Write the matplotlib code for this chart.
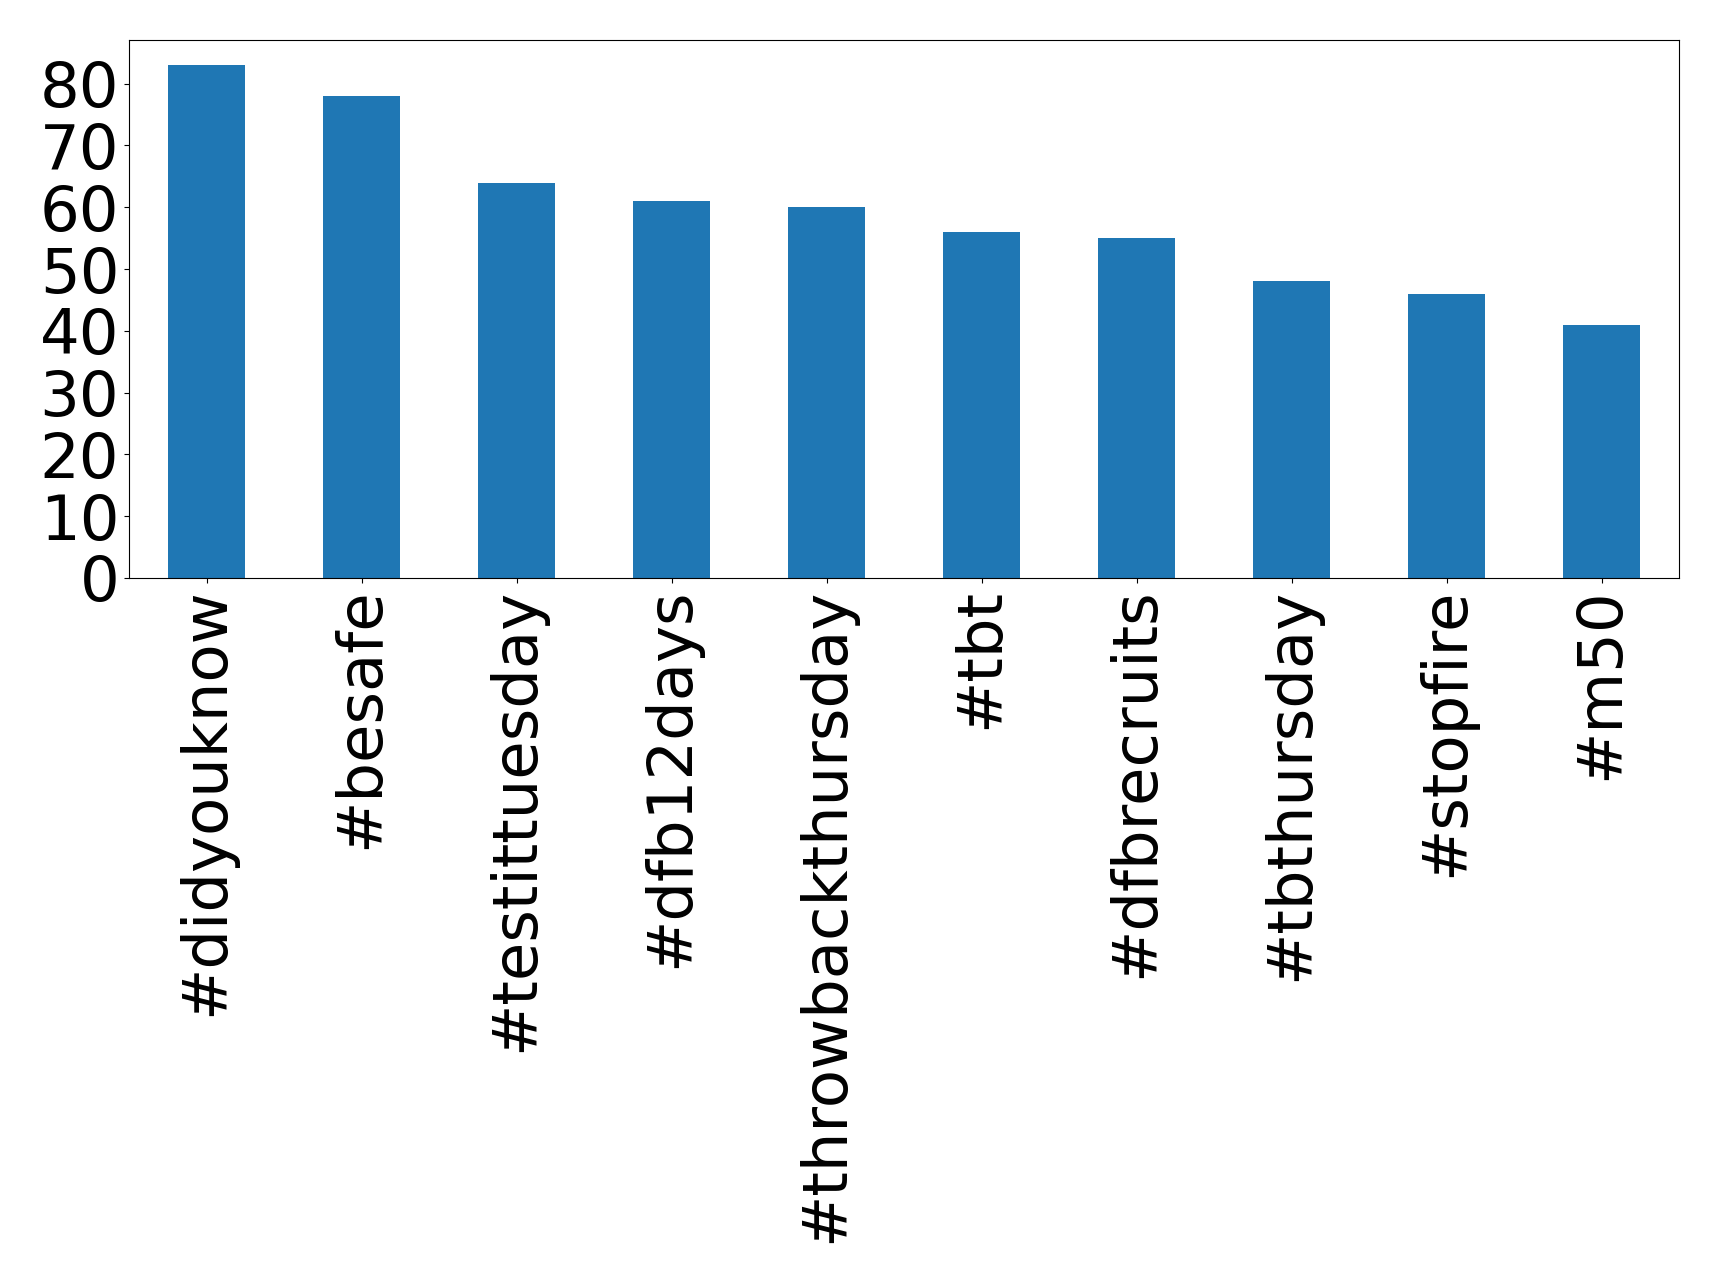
import matplotlib
matplotlib.use("Agg")
import matplotlib.pyplot as plt

hashtags = ["#didyouknow", "#besafe", "#testittuesday", "#dfb12days", "#throwbackthursday",
            "#tbt", "#dfbrecruits", "#tbthursday", "#stopfire", "#m50"]
counts = [83, 78, 64, 61, 60, 56, 55, 48, 46, 41]

fig = plt.figure(figsize=(17.19, 12.83), dpi=100)
ax = fig.add_axes([129 / 1719, 1 - 578 / 1283, (1679 - 129) / 1719, (578 - 39.5) / 1283])

x = range(len(hashtags))
ax.bar(x, counts, width=0.5, color="#1f77b4")
ax.set_xlim(-0.5, len(hashtags) - 0.5)
ax.set_xticks(list(x))
ax.set_xticklabels(hashtags, rotation=90)
ax.set_yticks(range(0, 90, 10))
ax.tick_params(labelsize=45)

fig.savefig("out.png", dpi=100)
